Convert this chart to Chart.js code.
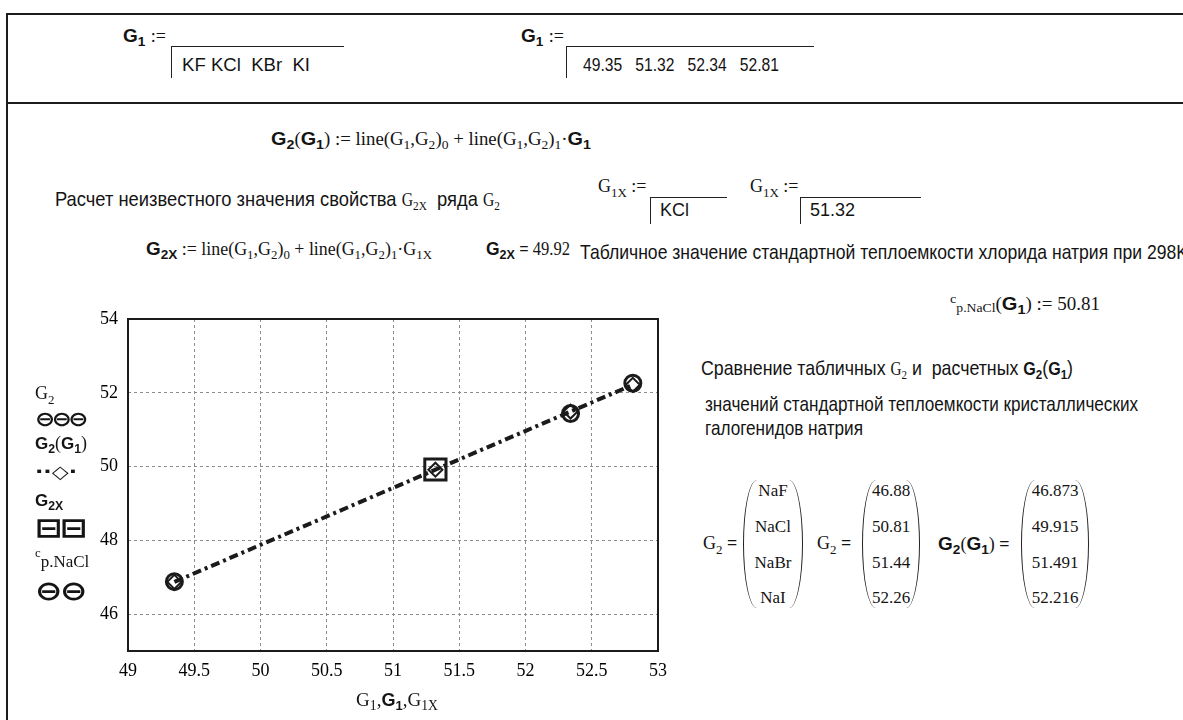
<!DOCTYPE html>
<html>
<head>
<meta charset="utf-8">
<script src="https://cdn.jsdelivr.net/npm/chart.js@4"></script>
<style>
  html, body { margin: 0; padding: 0; background: #fff; }
  body { width: 1183px; height: 720px; position: relative; overflow: hidden; color: #141414; }
  .t { position: absolute; white-space: nowrap; line-height: 1; transform: translateY(-50%); transform-origin: left center; }
  .ru { font-family: "Liberation Sans", Arial, sans-serif; font-size: 21px; }
  .sf { font-family: "Liberation Serif", "DejaVu Serif", serif; font-size: 18px; }
  .bg { font-family: "Liberation Sans", Arial, sans-serif; font-weight: bold; font-size: 19px; }
  .sa { font-family: "Liberation Sans", Arial, sans-serif; font-size: 18px; }
  .eq { font-weight: bold; }
  sub { font-size: 72%; vertical-align: -0.35em; line-height: 0; }
  .hl { position: absolute; background: #1c1c1c; height: 2px; }
  .vl { position: absolute; background: #1c1c1c; width: 2px; }
  .box { position: absolute; border-top: 1.5px solid #222; border-left: 1.5px solid #222; }
  .mat { position: absolute; top: 480px; height: 128px;
         border-left: 1.8px solid #222; border-right: 1.8px solid #222;
         border-radius: 14px / 64px; }
  .mat div { position: absolute; left: 0; right: 0; text-align: center;
             font-family: "Liberation Serif", serif; font-size: 17px; line-height: 1;
             transform: translateY(-50%); }
  .leg { position: absolute; left: 35px; line-height: 1; transform: translateY(-50%); white-space: nowrap; transform-origin: left center; }
  .sym { font-family: "DejaVu Sans", sans-serif; font-weight: bold; }
  #chartBox { position: absolute; left: 0; top: 290px; width: 700px; height: 430px; }
</style>
</head>
<body>

<!-- worksheet frame -->
<div class="hl" style="left:7px; top:13px; width:1176px;"></div>
<div class="vl" style="left:6px; top:13px; height:707px;"></div>
<div class="hl" style="left:7px; top:102px; width:1176px;"></div>

<!-- G1 := names -->
<div class="t bg" style="left:123px; top:35px;">G<sub>1</sub> <span class="sf" style="font-weight:normal">:=</span></div>
<div class="box" style="left:171px; top:46px; width:172px; height:31px;"></div>
<div class="t sa" id="namesG1" data-w="128" style="left:182px; top:65px;"></div>

<!-- G1 := values -->
<div class="t bg" style="left:521px; top:35px;">G<sub>1</sub> <span class="sf" style="font-weight:normal">:=</span></div>
<div class="box" style="left:566px; top:46px; width:247px; height:31px;"></div>
<div class="t sa" id="valuesG1" data-w="196" style="left:583px; top:65px;"></div>

<!-- regression function -->
<div class="t sf" data-w="320" style="left:271px; top:138px;"><span class="bg">G<sub>2</sub></span>(<span class="bg">G<sub>1</sub></span>) := line(G<sub>1</sub>,G<sub>2</sub>)<sub>0</sub> + line(G<sub>1</sub>,G<sub>2</sub>)<sub>1</sub>·<span class="bg">G<sub>1</sub></span></div>

<div class="t ru" data-w="445" style="left:55px; top:198px;">Расчет неизвестного значения свойства <span class="sf">G<sub>2X</sub></span>&nbsp; ряда <span class="sf">G<sub>2</sub></span></div>

<!-- G1X inputs -->
<div class="t sf" style="left:598px; top:186px;">G<sub>1X</sub> :=</div>
<div class="box" style="left:650px; top:197px; width:76px; height:26px;"></div>
<div class="t sa" id="nameG1X" style="left:660px; top:210px;"></div>
<div class="t sf" style="left:750px; top:186px;">G<sub>1X</sub> :=</div>
<div class="box" style="left:800px; top:197px; width:120px; height:26px;"></div>
<div class="t sa" id="valueG1X" style="left:810px; top:210px;"></div>

<!-- G2X evaluation -->
<div class="t sf" data-w="286" style="left:146px; top:248px;"><span class="bg">G<sub>2X</sub></span> := line(G<sub>1</sub>,G<sub>2</sub>)<sub>0</sub> + line(G<sub>1</sub>,G<sub>2</sub>)<sub>1</sub>·G<sub>1X</sub></div>
<div class="t sf" data-w="84" style="left:486px; top:248px;"><span class="bg">G<sub>2X</sub></span> <span class="eq">=</span> <span id="valueG2X"></span></div>

<div class="t ru" data-w="608" style="left:580px; top:251px;">Табличное значение стандартной теплоемкости хлорида натрия при 298K</div>

<div class="t sf" data-w="150" style="left:950px; top:302px;"><sup style="font-size:75%">c</sup><sub style="vertical-align:-0.2em">p.NaCl</sub>(<span class="bg">G<sub>1</sub></span>) := <span id="valueCp"></span></div>

<div class="t ru" data-w="372" style="left:701px; top:367px;">Сравнение табличных <span class="sf">G<sub>2</sub></span> и&nbsp; расчетных <span class="bg">G<sub>2</sub></span>(<span class="bg">G<sub>1</sub></span>)</div>
<div class="t ru" data-w="433" style="left:705px; top:403px;">значений стандартной теплоемкости кристаллических</div>
<div class="t ru" data-w="158" style="left:705px; top:427px;">галогенидов натрия</div>

<!-- result matrices -->
<div class="t sf" style="left:703px; top:543px;">G<sub>2</sub> <span class="eq">=</span></div>
<div class="mat" id="matNames" style="left:743px; width:58px;"></div>
<div class="t sf" style="left:817px; top:543px;">G<sub>2</sub> <span class="eq">=</span></div>
<div class="mat" id="matTable" style="left:862px; width:56px;"></div>
<div class="t sf" style="left:938px; top:543px;"><span class="bg">G<sub>2</sub></span>(<span class="bg">G<sub>1</sub></span>) <span class="eq">=</span></div>
<div class="mat" id="matFit" style="left:1021px; width:66px;"></div>

<!-- plot -->
<div id="chartBox"><canvas id="plot" width="700" height="430"></canvas></div>

<!-- trace legend -->
<div class="leg sf" style="top:393px;">G<sub>2</sub></div>
<div class="leg sym" data-w="50" style="top:419px; font-size:21px; letter-spacing:-3px;">⊖⊖⊖</div>
<div class="leg bg" style="top:443px; font-size:17px;">G<sub>2</sub><span class="sf" style="font-weight:normal">(</span>G<sub>1</sub><span class="sf" style="font-weight:normal">)</span></div>
<div class="leg sym" data-w="42" style="top:472px; font-size:18px;">··◇·</div>
<div class="leg bg" style="top:500px; font-size:17px;">G<sub>2X</sub></div>
<div class="leg sym" data-w="50" style="top:527px; font-size:27px; letter-spacing:-2px;">⊟⊟</div>
<div class="leg sf" style="top:557px; font-size:17px;"><sup style="font-size:75%">c</sup><sub style="vertical-align:-0.2em;font-size:100%">p.NaCl</sub></div>
<div class="leg sym" data-w="50" style="top:590px; font-size:27px; letter-spacing:-2px;">⊖⊖</div>

<div class="t sf" style="left:397px; top:699px; transform:translate(-50%,-50%); font-size:19px;">G<sub>1</sub>,<span class="bg" style="font-size:18px">G<sub>1</sub></span>,G<sub>1X</sub></div>

<script>
// Halide series: potassium halides (G1) against sodium halides (G2)
const namesG1 = ['KF', 'KCl', 'KBr', 'KI'];
const valuesG1 = [49.35, 51.32, 52.34, 52.81];
const namesG2 = ['NaF', 'NaCl', 'NaBr', 'NaI'];
const valuesG2 = [46.88, 50.81, 51.44, 52.26];
const fitG2 = [46.873, 49.915, 51.491, 52.216];
const nameG1X = 'KCl';
const valueG1X = 51.32;
const valueG2X = 49.92;
const cpNaCl = 50.81;
const xTicks = [49, 49.5, 50, 50.5, 51, 51.5, 52, 52.5, 53];
const yTicks = [46, 48, 50, 52, 54];

// worksheet text fields
document.getElementById('namesG1').innerHTML = namesG1.join('&nbsp;&nbsp;').replace('KF&nbsp;&nbsp;', 'KF ').replace('KCl&nbsp;&nbsp;', 'KCl&nbsp; ');
document.getElementById('valuesG1').innerHTML = valuesG1.map(v => v.toFixed(2)).join('&nbsp;&nbsp; ');
document.getElementById('nameG1X').textContent = nameG1X;
document.getElementById('valueG1X').textContent = valueG1X.toFixed(2);
document.getElementById('valueG2X').textContent = valueG2X.toFixed(2);
document.getElementById('valueCp').textContent = cpNaCl.toFixed(2);

function fillMatrix(id, items) {
  const el = document.getElementById(id);
  const rows = [10, 46, 82, 117];
  items.forEach((txt, i) => {
    const d = document.createElement('div');
    d.style.top = rows[i] + 'px';
    d.textContent = txt;
    el.appendChild(d);
  });
}
fillMatrix('matNames', namesG2);
fillMatrix('matTable', valuesG2.map(v => v.toFixed(2)));
fillMatrix('matFit', fitG2.map(v => v.toFixed(3)));

// squeeze the worksheet strings to their narrow set widths
document.querySelectorAll('[data-w]').forEach(el => {
  const w = el.getBoundingClientRect().width;
  const k = Number(el.dataset.w) / w;
  el.style.transform = 'translateY(-50%) scaleX(' + k.toFixed(4) + ')';
});

// the NaCl member is the unknown one, so its tabulated point is not plotted
const unknownIdx = valuesG1.indexOf(valueG1X);
const tablePoints = valuesG1.map((x, i) => ({ x, y: valuesG2[i] })).filter((p, i) => i !== unknownIdx);
const fitPoints = valuesG1.map((x, i) => ({ x, y: fitG2[i] }));
const unknownPoint = [{ x: valueG1X, y: valueG2X }];

const ink = '#1b1b1b';

const framePlugin = {
  id: 'frame',
  beforeDatasetsDraw(chart) {
    const { ctx, chartArea: a } = chart;
    ctx.save();
    ctx.strokeStyle = ink;
    ctx.lineWidth = 2;
    ctx.strokeRect(a.left, a.top, a.right - a.left, a.bottom - a.top);
    ctx.restore();
  }
};

const tickFont = { family: '"Liberation Serif", serif', size: 18 };

new Chart(document.getElementById('plot'), {
  type: 'scatter',
  data: {
    datasets: [
      {
        label: 'G2X',
        data: unknownPoint,
        pointStyle: 'rect',
        pointRadius: 15,
        pointBorderWidth: 3,
        pointBorderColor: ink,
        pointBackgroundColor: 'rgba(0,0,0,0)',
        showLine: false
      },
      {
        label: 'G2(G1)',
        data: fitPoints,
        showLine: true,
        borderColor: ink,
        borderWidth: 4,
        borderDash: [9, 4, 3, 4],
        pointStyle: 'rectRot',
        pointRadius: 7,
        pointBorderWidth: 2,
        pointBorderColor: ink,
        pointBackgroundColor: 'rgba(0,0,0,0)'
      },
      {
        label: 'G2',
        data: tablePoints,
        showLine: false,
        pointStyle: 'circle',
        pointRadius: 8,
        pointBorderWidth: 3,
        pointBorderColor: ink,
        pointBackgroundColor: 'rgba(0,0,0,0)'
      }
    ]
  },
  options: {
    responsive: false,
    animation: false,
    events: [],
    layout: { padding: { top: 29, right: 42, left: 0, bottom: 0 } },
    plugins: { legend: { display: false }, tooltip: { enabled: false } },
    scales: {
      x: {
        type: 'linear',
        min: 49, max: 53,
        afterBuildTicks: s => { s.ticks = xTicks.map(v => ({ value: v })); },
        afterFit: s => { s.height = 69; },
        grid: { color: '#8c8c8c', lineWidth: 1, drawTicks: false },
        border: { display: false, dash: [3, 3] },
        ticks: { color: '#000', font: tickFont, padding: 9, maxRotation: 0, callback: v => String(v) }
      },
      y: {
        type: 'linear',
        min: 45, max: 54,
        afterBuildTicks: s => { s.ticks = yTicks.map(v => ({ value: v })); },
        afterFit: s => { s.width = 128; },
        grid: { color: '#8c8c8c', lineWidth: 1, drawTicks: false },
        border: { display: false, dash: [3, 3] },
        ticks: { color: '#000', font: tickFont, padding: 10, callback: v => String(v) }
      }
    }
  },
  plugins: [framePlugin]
});
</script>
</body>
</html>
